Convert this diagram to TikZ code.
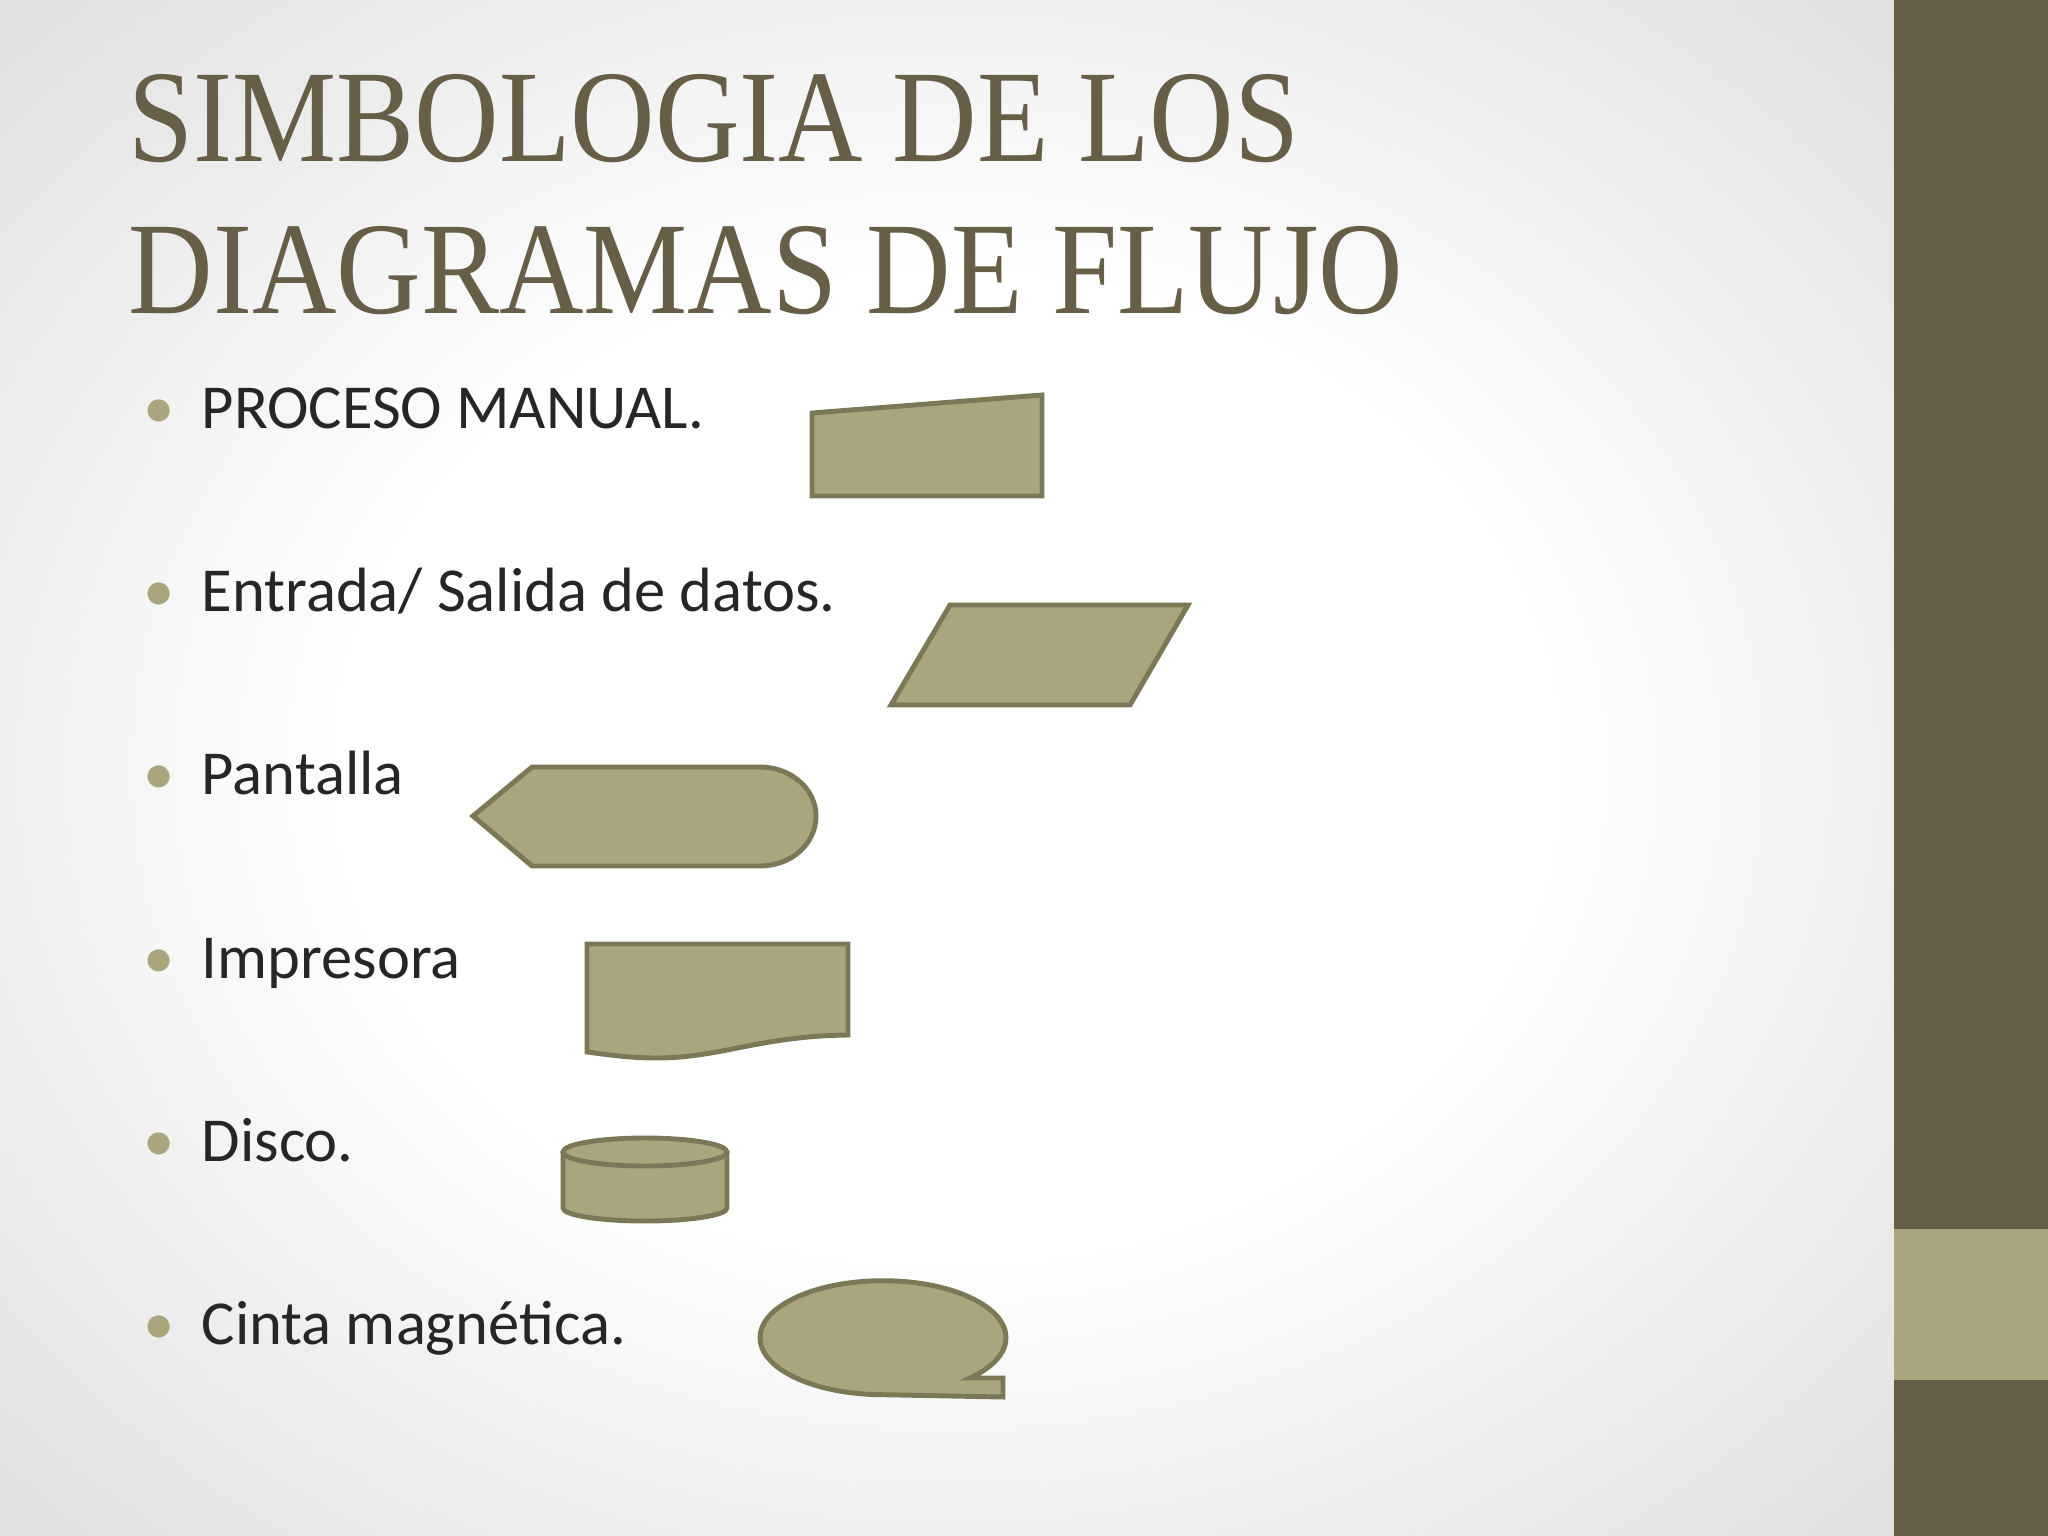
\documentclass[tikz,border=0pt]{standalone}
\usepackage{fontspec}
\setmainfont{Carlito}
\newfontfamily\titlefont[FakeStretch=0.89]{Liberation Serif}
\definecolor{darkolive}{RGB}{103,94,71}
\definecolor{lightolive}{RGB}{170,165,124}
\definecolor{edgeolive}{RGB}{122,120,86}
\definecolor{textgrey}{RGB}{38,38,38}
\pgfdeclareradialshading{slidebg}{\pgfpoint{0bp}{0bp}}{color(0bp)=(white); color(16bp)=(white);
	color(25bp)=(black!6); color(35bp)=(black!12); color(50bp)=(black!12)}

\begin{document}
\begin{tikzpicture}[x=0.01cm,y=-0.01cm,
	symbol/.style={fill=lightolive,draw=edgeolive,line width=1.4pt},
	item/.style={anchor=base west,inner sep=0pt,text=textgrey,font=\fontsize{17.8}{20}\selectfont},
	dot/.style={anchor=base,inner sep=0pt,text=lightolive,font=\fontsize{17.8}{20}\selectfont},
	heading/.style={anchor=base west,inner sep=0pt,text=darkolive,font=\titlefont\fontsize{37.4}{40}\selectfont}]
	\useasboundingbox (0,0) rectangle (2048,1536);
	% background and side bar
	\shade[shading=slidebg] (0,0) rectangle (1894,1536);
	\fill[darkolive] (1894,0) rectangle (2048,1536);
	\fill[lightolive] (1894,1229) rectangle (2048,1380);
	% title
	\node[heading] (titulo1) at (128,161) {SIMBOLOGIA DE LOS};
	\node[heading] (titulo2) at (128,313) {DIAGRAMAS DE FLUJO};
	% list
	\node[dot] (b1) at (159,428) {\textbullet};
	\node[item] (manual) at (201,428) {PROCESO MANUAL.};
	\node[dot] (b2) at (159,611) {\textbullet};
	\node[item] (entrada) at (201,611) {Entrada/ Salida de datos.};
	\node[dot] (b3) at (159,794) {\textbullet};
	\node[item] (pantalla) at (201,794) {Pantalla};
	\node[dot] (b4) at (159,978) {\textbullet};
	\node[item] (impresora) at (201,978) {Impresora};
	\node[dot] (b5) at (159,1161) {\textbullet};
	\node[item] (disco) at (201,1161) {Disco.};
	\node[dot] (b6) at (159,1344) {\textbullet};
	\node[item] (cinta) at (201,1344) {Cinta magnética.};
	% symbols
	\draw[symbol] (812,413) -- (1042,395) -- (1042,496) -- (812,496) -- cycle;
	\draw[symbol] (950,605) -- (1188,605) -- (1130,705) -- (891,705) -- cycle;
	\draw[symbol] (473,816) -- (532,767) -- (760,767)
		.. controls (791,767) and (816,789) .. (816,816)
		.. controls (816,844) and (791,866) .. (760,866) -- (532,866) -- cycle;
	\draw[symbol] (587,944) -- (848,944) -- (848,1035)
		.. controls (760,1036) and (720,1058) .. (657,1058)
		.. controls (630,1058) and (610,1055) .. (587,1052) -- cycle;
	\draw[symbol] (563,1152) -- (563,1208) arc[start angle=180,end angle=0,x radius=82,y radius=13]
		-- (727,1152);
	\draw[symbol] (645,1152) ellipse[x radius=82,y radius=14];
	\draw[symbol] (970,1378) arc[start angle=45,end angle=-270,x radius=123,y radius=57]
		-- (1003,1397) -- (1003,1378) -- cycle;
\end{tikzpicture}
\end{document}
